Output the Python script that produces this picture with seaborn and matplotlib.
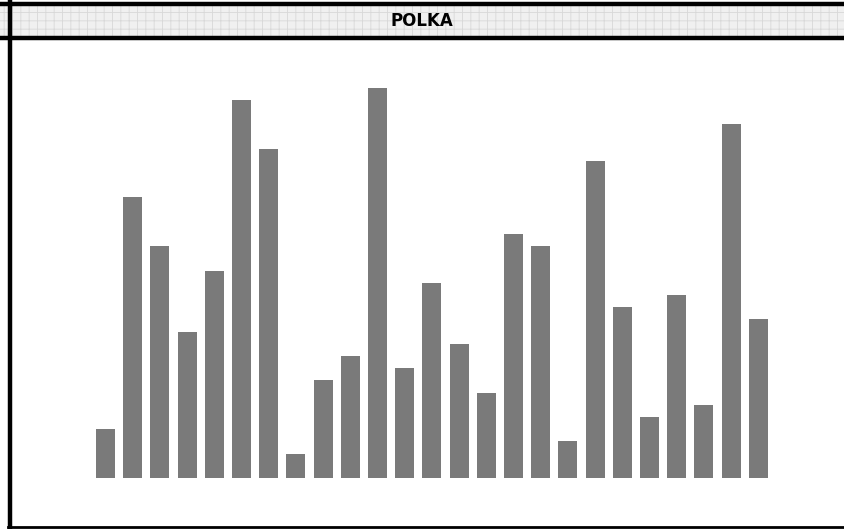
import pandas as pd
import seaborn as sns
import matplotlib.pyplot as plt
from matplotlib.patches import Rectangle

title = "POLKA"
categories = [str(i) for i in range(1, 26)]
values = [4, 23, 19, 12, 17, 31, 27, 2, 8, 10, 32, 9, 16, 11, 7,
          20, 19, 3, 26, 14, 5, 15, 6, 29, 13]

df = pd.DataFrame({"cat": categories, "val": values})

W, H = 844, 529
fig = plt.figure(figsize=(W / 100, H / 100), dpi=100)
fig.patch.set_facecolor("white")

# plot area inside the window frame
ax_left, ax_right = 11, 844
ax_top, ax_bottom = 39, 526
ax = fig.add_axes([ax_left / W, (H - ax_bottom) / H,
                   (ax_right - ax_left) / W, (ax_bottom - ax_top) / H])

sns.barplot(data=df, x="cat", y="val", color="#7a7a7a", width=0.7,
            saturation=1, edgecolor="none", ax=ax)

# pixel mapping: bar 0 centred at x=105.5, step 27.2 px; baseline y=478, 12.2 px per unit
step, x0 = 27.2, 105.5
ax.set_xlim((ax_left - x0) / step, (ax_right - x0) / step)
unit, base = 12.2, 478
ax.set_ylim(-(ax_bottom - base) / unit, (base - ax_top) / unit)
ax.set_axis_off()

# title bar
tb = fig.add_axes([0, (H - 37) / H, 1, 33 / H])
tb.set_axis_off()
plt.rcParams["hatch.linewidth"] = 0.6
tb.add_patch(Rectangle((0, 0), 1, 1, transform=tb.transAxes,
                       facecolor="#f0f0f0", edgecolor="#d8d8d8",
                       hatch="++", linewidth=0))
tb.text(0.5, 0.5, title, transform=tb.transAxes, ha="center", va="center",
        fontsize=12, fontweight="bold", color="black")

# window frame lines (figure pixel coords)
frame = fig.add_axes([0, 0, 1, 1], facecolor="none")
frame.set_xlim(0, W)
frame.set_ylim(H, 0)
frame.set_axis_off()
frame.plot([0, W], [3.5, 3.5], color="black", lw=3.2)
frame.plot([0, W], [37.5, 37.5], color="black", lw=3.2)
frame.plot([9.5, 9.5], [2, 528], color="black", lw=3.2)
frame.plot([8, W], [527, 527], color="black", lw=2)

plt.savefig("out.png", dpi=100)
plt.close()
